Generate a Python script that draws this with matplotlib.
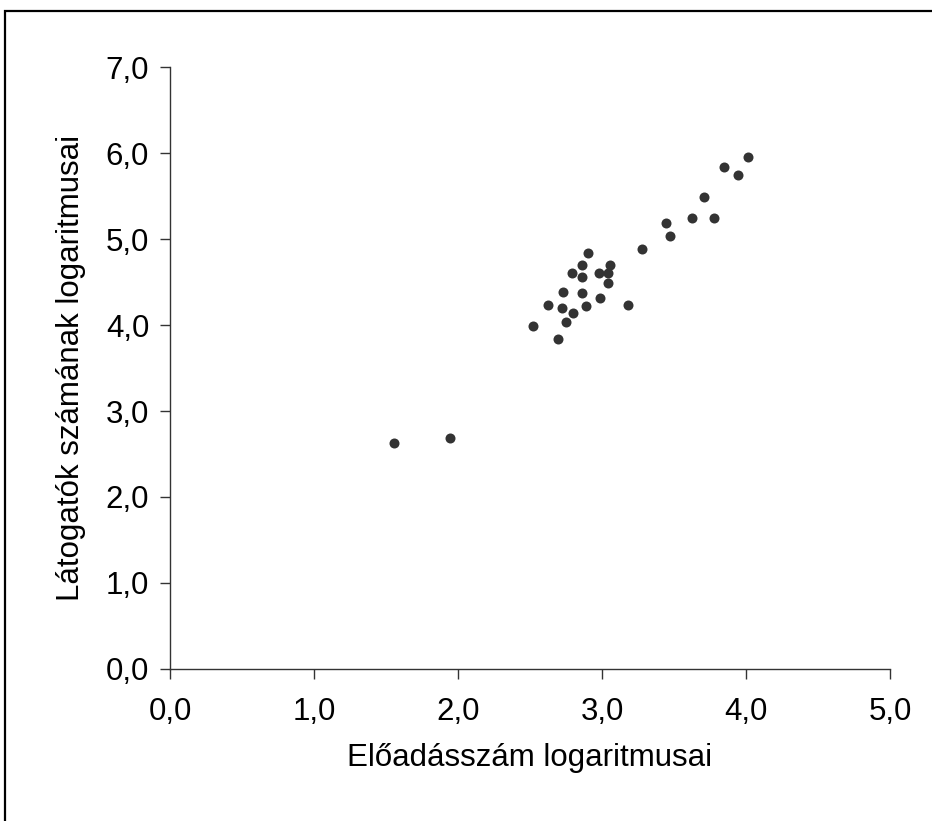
import matplotlib
matplotlib.use('Agg')
import matplotlib.pyplot as plt
from matplotlib.patches import Rectangle
from matplotlib.ticker import FuncFormatter

plt.rcParams['font.family'] = ['Liberation Sans', 'DejaVu Sans']

# log of number of performances vs log of number of visitors
eloadas_log = [1.556, 1.944,
               2.905, 3.280, 2.859, 3.056, 2.790, 2.859, 2.981, 3.044,
               3.040, 2.731, 2.859, 2.986, 2.627, 2.720, 2.889, 3.178,
               2.801, 2.750, 2.523, 2.692,
               3.472, 3.444, 3.623, 3.778, 3.708, 3.847, 3.942, 4.012]
latogato_log = [2.624, 2.690,
                4.834, 4.880, 4.694, 4.698, 4.601, 4.555, 4.601, 4.601,
                4.485, 4.387, 4.369, 4.317, 4.229, 4.201, 4.224, 4.229,
                4.136, 4.038, 3.992, 3.834,
                5.039, 5.182, 5.248, 5.248, 5.485, 5.834, 5.741, 5.950]

x_ticks = [0, 1, 2, 3, 4, 5]
y_ticks = [0, 1, 2, 3, 4, 5, 6, 7]

fig = plt.figure(figsize=(9.32, 8.21), dpi=100)
ax = fig.add_axes([170 / 932, 1 - 669 / 821, 720 / 932, 602 / 821])

ax.scatter(eloadas_log, latogato_log, s=52, color='#333333', zorder=3, linewidths=0)

ax.set_xlim(0, 5)
ax.set_ylim(0, 7)
ax.set_xticks(x_ticks)
ax.set_yticks(y_ticks)
comma = FuncFormatter(lambda v, p: f'{v:.1f}'.replace('.', ','))
ax.xaxis.set_major_formatter(comma)
ax.yaxis.set_major_formatter(comma)

for side in ['top', 'right']:
    ax.spines[side].set_visible(False)
for side in ['left', 'bottom']:
    ax.spines[side].set_linewidth(1.0)
    ax.spines[side].set_color('#333333')
ax.tick_params(direction='out', length=7, width=1.0, color='#333333',
               labelsize=22.5)
ax.tick_params(axis='x', pad=13)
ax.tick_params(axis='y', pad=8)

ax.set_xlabel('Előadásszám logaritmusai', fontsize=22.5, labelpad=12)
ax.set_ylabel('Látogatók számának logaritmusai', fontsize=22.5, labelpad=14)

# outer frame (right and bottom edges run off the image)
fig.patches.append(Rectangle((5 / 932, -0.1), 1.2, 1 - 11 / 821 + 0.1,
                             transform=fig.transFigure, fill=False,
                             edgecolor='black', linewidth=1.6))

plt.savefig('out.png', dpi=100)
